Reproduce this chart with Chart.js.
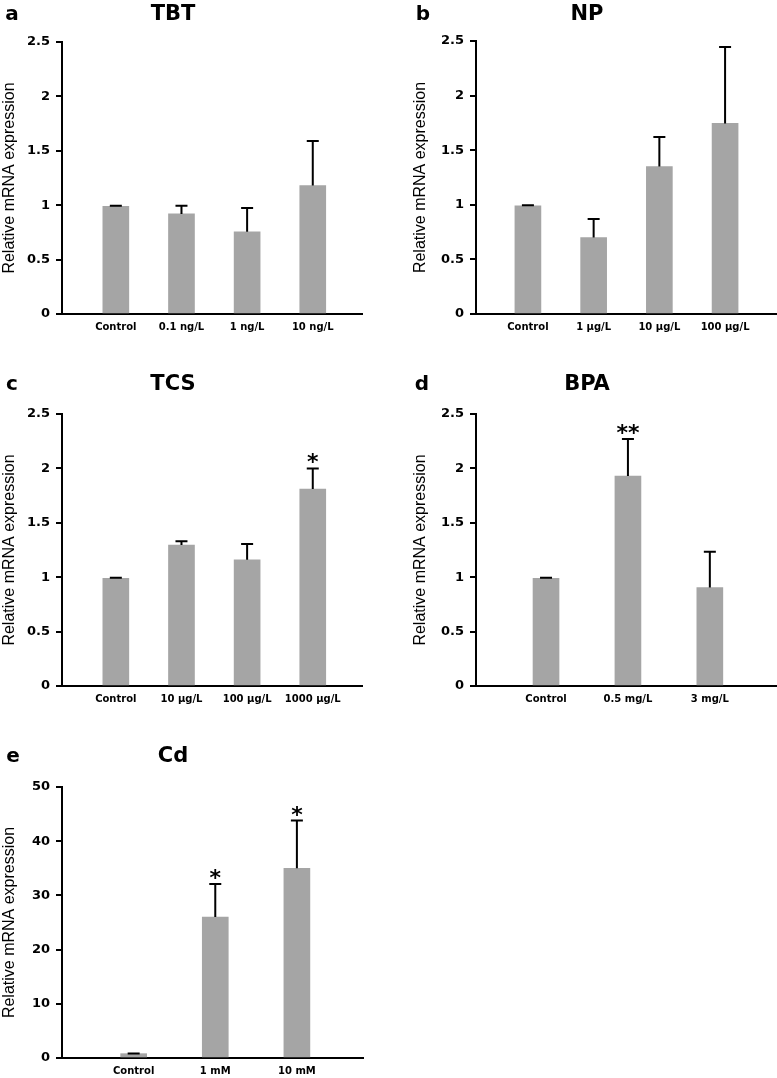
<!DOCTYPE html>
<html>
<head>
<meta charset="utf-8">
<script src="https://cdn.jsdelivr.net/npm/chart.js@4.4.0/dist/chart.umd.min.js"></script>
<style>
  body { margin: 0; background: #fff; overflow: hidden; }
  #wrap { position: relative; width: 777px; height: 1078px; }
  canvas { position: absolute; }
</style>
</head>
<body>
<div id="wrap">
  <canvas id="pa" style="left:0;top:0" width="385" height="334"></canvas>
  <canvas id="pb" style="left:385px;top:0" width="392" height="334"></canvas>
  <canvas id="pc" style="left:0;top:372px" width="385" height="334"></canvas>
  <canvas id="pd" style="left:385px;top:372px" width="392" height="334"></canvas>
  <canvas id="pe" style="left:0;top:744px" width="385" height="334"></canvas>
</div>
<script>
// TBT
const tbtLabels = ['Control', '0.1 ng/L', '1 ng/L', '10 ng/L']
const tbtValues = [0.99, 0.92, 0.755, 1.18]
const tbtErrors = [0.005, 0.075, 0.22, 0.41]
const tbtSig = ['', '', '', '']

// NP
const npLabels = ['Control', '1 µg/L', '10 µg/L', '100 µg/L']
const npValues = [0.99, 0.70, 1.35, 1.745]
const npErrors = [0.005, 0.17, 0.27, 0.70]
const npSig = ['', '', '', '']

// TCS
const tcsLabels = ['Control', '10 µg/L', '100 µg/L', '1000 µg/L']
const tcsValues = [0.99, 1.295, 1.16, 1.81]
const tcsErrors = [0.005, 0.035, 0.145, 0.19]
const tcsSig = ['', '', '', '*']

// BPA
const bpaLabels = ['Control', '0.5 mg/L', '3 mg/L']
const bpaValues = [0.99, 1.93, 0.905]
const bpaErrors = [0.005, 0.34, 0.33]
const bpaSig = ['', '**', '']

// Cd
const cdLabels = ['Control', '1 mM', '10 mM']
const cdValues = [0.8, 26.0, 35.0]
const cdErrors = [0.05, 6.1, 8.8]
const cdSig = ['', '*', '*']

const yTicks25 = [0, 0.5, 1, 1.5, 2, 2.5]
const yTicks50 = [0, 10, 20, 30, 40, 50]

const FONT = '"DejaVu Sans", Verdana, sans-serif'

// draws error bars, significance stars, panel letter and title
const panelPlugin = {
  id: 'panel',
  afterDatasetsDraw(chart, args, opts) {
    const ctx = chart.ctx
    const y = chart.scales.y
    const meta = chart.getDatasetMeta(0)
    const vals = chart.data.datasets[0].data
    ctx.save()
    ctx.strokeStyle = '#000'
    ctx.lineWidth = 2
    ctx.fillStyle = '#000'
    ctx.font = 'bold 22px ' + FONT
    ctx.textAlign = 'center'
    ctx.textBaseline = 'alphabetic'
    meta.data.forEach(function (bar, i) {
      const top = y.getPixelForValue(vals[i].y + opts.errors[i])
      ctx.beginPath()
      ctx.moveTo(bar.x, bar.y)
      ctx.lineTo(bar.x, top)
      ctx.moveTo(bar.x - 6, top)
      ctx.lineTo(bar.x + 6, top)
      ctx.stroke()
      if (opts.sig[i]) {
        ctx.fillText(opts.sig[i], bar.x, top + 1)
      }
    })
    ctx.textBaseline = 'middle'
    ctx.font = 'bold 20px ' + FONT
    ctx.fillText(opts.letter, opts.letterX, opts.headY)
    ctx.font = 'bold 21px ' + FONT
    ctx.fillText(opts.title, opts.titleX, opts.headY)
    ctx.restore()
  }
}

function makePanel(id, o) {
  new Chart(document.getElementById(id), {
    type: 'bar',
    data: {
      datasets: [{
        data: o.values.map(function (v, i) { return { x: i, y: v } }),
        backgroundColor: '#a5a5a5',
        borderWidth: 0,
        barThickness: 26
      }]
    },
    options: {
      responsive: false,
      animation: false,
      layout: { padding: { left: o.padLeft, right: o.padRight, top: o.padTop, bottom: 0 } },
      scales: {
        x: {
          type: 'linear',
          offset: false,
          min: o.xmin,
          max: o.xmax,
          afterFit: function (s) { s.height = 20 },
          grid: { display: false, drawTicks: false },
          border: { display: true, color: '#000', width: 2 },
          ticks: {
            stepSize: 1,
            includeBounds: false,
            padding: 7,
            color: '#000',
            font: { family: FONT, size: 10, weight: 'bold' },
            callback: function (v) { return Number.isInteger(v) && o.labels[v] !== undefined ? o.labels[v] : '' }
          }
        },
        y: {
          min: 0,
          max: o.ymax,
          afterFit: function (s) { s.width = o.yWidth },
          afterBuildTicks: function (s) { s.ticks = o.yTicks.map(function (v) { return { value: v } }) },
          grid: { drawOnChartArea: false, drawTicks: true, tickLength: 6, color: '#000', lineWidth: 2 },
          border: { display: true, color: '#000', width: 2 },
          ticks: {
            padding: 6,
            color: '#000',
            font: { family: FONT, size: 13, weight: 'bold' },
            callback: function (v) { return String(v) }
          },
          title: {
            display: true,
            text: 'Relative mRNA expression',
            color: '#000',
            padding: 0,
            font: { family: '"Liberation Sans", Arial, sans-serif', size: 16 }
          }
        }
      },
      plugins: {
        legend: { display: false },
        tooltip: { enabled: false },
        panel: {
          errors: o.errors, sig: o.sig,
          letter: o.letter, title: o.title,
          letterX: o.letterX, titleX: o.titleX, headY: o.headY
        }
      }
    },
    plugins: [panelPlugin]
  })
}

makePanel('pa', { labels: tbtLabels, values: tbtValues, errors: tbtErrors, sig: tbtSig,
  letter: 'a', title: 'TBT', letterX: 12, titleX: 173, headY: 15,
  padLeft: 0, padRight: 23, padTop: 42, yWidth: 62, xmin: -0.82, xmax: 3.75, ymax: 2.5, yTicks: yTicks25 })
makePanel('pb', { labels: npLabels, values: npValues, errors: npErrors, sig: npSig,
  letter: 'b', title: 'NP', letterX: 38, titleX: 202, headY: 15,
  padLeft: 26, padRight: 0, padTop: 41, yWidth: 65, xmin: -0.79, xmax: 3.79, ymax: 2.5, yTicks: yTicks25 })
makePanel('pc', { labels: tcsLabels, values: tcsValues, errors: tcsErrors, sig: tcsSig,
  letter: 'c', title: 'TCS', letterX: 12, titleX: 173, headY: 13,
  padLeft: 0, padRight: 23, padTop: 42, yWidth: 62, xmin: -0.82, xmax: 3.75, ymax: 2.5, yTicks: yTicks25 })
makePanel('pd', { labels: bpaLabels, values: bpaValues, errors: bpaErrors, sig: bpaSig,
  letter: 'd', title: 'BPA', letterX: 37, titleX: 202, headY: 13,
  padLeft: 26, padRight: 0, padTop: 42, yWidth: 65, xmin: -0.855, xmax: 2.82, ymax: 2.5, yTicks: yTicks25 })
makePanel('pe', { labels: cdLabels, values: cdValues, errors: cdErrors, sig: cdSig,
  letter: 'e', title: 'Cd', letterX: 13, titleX: 173, headY: 13,
  padLeft: 0, padRight: 22, padTop: 43, yWidth: 62, xmin: -0.878, xmax: 2.81, ymax: 50, yTicks: yTicks50 })
</script>
</body>
</html>
